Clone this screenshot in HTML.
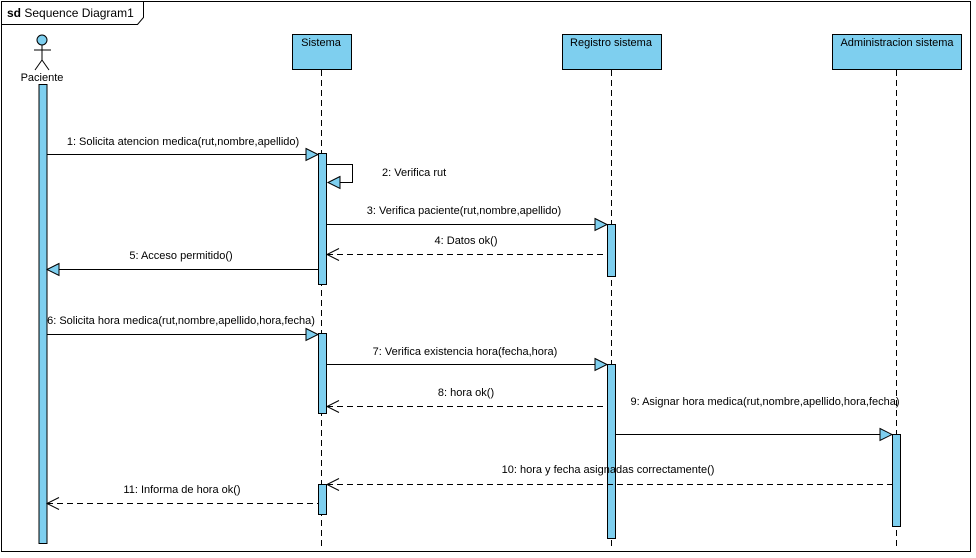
<!DOCTYPE html>
<html><head><meta charset="utf-8"><style>
html,body{margin:0;padding:0;background:#fff;}
svg{display:block;font-family:"Liberation Sans",Arial,sans-serif;font-size:11px;}
</style></head><body>
<svg width="976" height="558" viewBox="0 0 976 558" xmlns="http://www.w3.org/2000/svg">
<rect x="0" y="0" width="976" height="558" fill="#fff"/>
<rect x="1.5" y="1.5" width="969" height="550" fill="none" stroke="#000" stroke-width="1"/>
<path d="M1.5 24.5 H137.5 L143.5 17.5 V1.5" fill="none" stroke="#000"/>
<text x="7" y="17" font-size="12"><tspan font-weight="bold">sd</tspan>  Sequence Diagram1</text>
<!-- actor -->
<circle cx="42" cy="40" r="5" fill="#7ecfef" stroke="#000"/>
<line x1="42" y1="45" x2="42" y2="60" stroke="#000"/>
<line x1="34" y1="50" x2="51" y2="50" stroke="#000"/>
<line x1="42" y1="60" x2="35" y2="70" stroke="#000"/>
<line x1="42" y1="60" x2="49" y2="70" stroke="#000"/>
<text x="42" y="81" text-anchor="middle">Paciente</text>
<rect x="39" y="84.5" width="8" height="459" fill="#7ecfef" stroke="#000"/>
<!-- lifeline heads -->
<g fill="#7ecfef" stroke="#000">
<rect x="292.5" y="34.5" width="59" height="35"/>
<rect x="562.5" y="34.5" width="99" height="35"/>
<rect x="832.5" y="34.5" width="129" height="35"/>
</g>
<text x="321" y="46" text-anchor="middle">Sistema</text>
<text x="611" y="46" text-anchor="middle">Registro sistema</text>
<text x="897" y="46" text-anchor="middle">Administracion sistema</text>
<g stroke="#000" stroke-dasharray="6,4">
<line x1="321.5" y1="70" x2="321.5" y2="548"/>
<line x1="611.5" y1="70" x2="611.5" y2="548"/>
<line x1="896.5" y1="70" x2="896.5" y2="548"/>
</g>
<!-- activations -->
<g fill="#7ecfef" stroke="#000">
<rect x="318.5" y="153.5" width="8" height="131"/>
<rect x="318.5" y="333.5" width="8" height="80"/>
<rect x="318.5" y="484.5" width="8" height="30"/>
<rect x="607.5" y="224.5" width="8" height="52"/>
<rect x="607.5" y="364.5" width="8" height="174"/>
<rect x="892.5" y="434.5" width="8" height="92"/>
</g>
<!-- messages -->
<g stroke="#000" fill="none">
<line x1="47" y1="154.5" x2="318" y2="154.5"/>
<path d="M327 164.5 H352.5 V182.5 H328"/>
<line x1="327" y1="224.5" x2="607" y2="224.5"/>
<line x1="327" y1="254.5" x2="607" y2="254.5" stroke-dasharray="6,4"/>
<line x1="47" y1="269.5" x2="318" y2="269.5"/>
<line x1="47" y1="334.5" x2="318" y2="334.5"/>
<line x1="327" y1="364.5" x2="607" y2="364.5"/>
<line x1="327" y1="406.5" x2="607" y2="406.5" stroke-dasharray="6,4"/>
<line x1="616" y1="434.5" x2="892" y2="434.5"/>
<line x1="327" y1="484.5" x2="892" y2="484.5" stroke-dasharray="6,4"/>
<line x1="47" y1="503.5" x2="318" y2="503.5" stroke-dasharray="6,4"/>
</g>
<!-- filled arrowheads -->
<g fill="#7ecfef" stroke="#000">
<path d="M306 148.5 L318 154.5 L306 160.5 Z"/>
<path d="M340 176.5 L328 182.5 L340 188.5 Z"/>
<path d="M595 218.5 L607 224.5 L595 230.5 Z"/>
<path d="M59 263.5 L47 269.5 L59 275.5 Z"/>
<path d="M306 328.5 L318 334.5 L306 340.5 Z"/>
<path d="M595 358.5 L607 364.5 L595 370.5 Z"/>
<path d="M880 428.5 L892 434.5 L880 440.5 Z"/>
</g>
<!-- open arrowheads -->
<g fill="none" stroke="#000">
<path d="M339 248.5 L327 254.5 L339 260.5"/>
<path d="M339 400.5 L327 406.5 L339 412.5"/>
<path d="M339 478.5 L327 484.5 L339 490.5"/>
<path d="M59 497.5 L47 503.5 L59 509.5"/>
</g>
<!-- labels -->
<text x="183" y="145" text-anchor="middle">1: Solicita atencion medica(rut,nombre,apellido)</text>
<text x="382" y="176">2: Verifica rut</text>
<text x="464" y="214" text-anchor="middle">3: Verifica paciente(rut,nombre,apellido)</text>
<text x="466" y="244" text-anchor="middle">4: Datos ok()</text>
<text x="181" y="259" text-anchor="middle">5: Acceso permitido()</text>
<text x="181" y="324" text-anchor="middle">6: Solicita hora medica(rut,nombre,apellido,hora,fecha)</text>
<text x="465" y="355" text-anchor="middle">7: Verifica existencia hora(fecha,hora)</text>
<text x="466" y="396" text-anchor="middle">8: hora ok()</text>
<text x="765" y="405" text-anchor="middle">9: Asignar hora medica(rut,nombre,apellido,hora,fecha)</text>
<text x="608" y="473" text-anchor="middle">10: hora y fecha asignadas correctamente()</text>
<text x="182" y="493" text-anchor="middle">11: Informa de hora ok()</text>
</svg>
</body></html>
